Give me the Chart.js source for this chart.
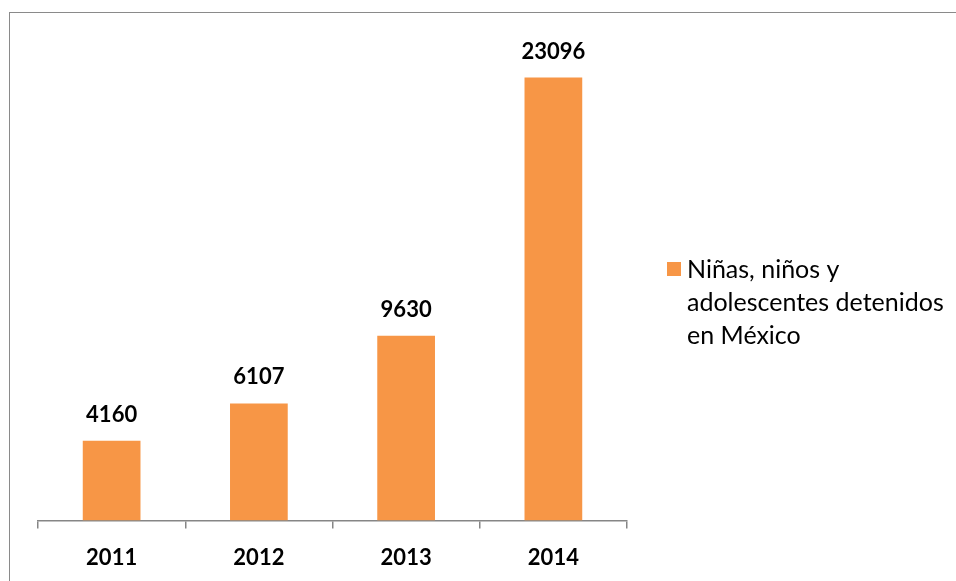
<!DOCTYPE html>
<html>
<head>
<meta charset="utf-8">
<script src="https://cdn.jsdelivr.net/npm/chart.js@4.4.0/dist/chart.umd.min.js"></script>
<style>
  html, body { margin: 0; padding: 0; background: #fff; overflow: hidden; }
  #wrap { position: relative; width: 956px; height: 581px; }
  #frame { position: absolute; left: 9px; top: 12px; width: 1000px; height: 700px; border: 1.5px solid #8a8a8a; box-sizing: border-box; }
  canvas { position: absolute; left: 0; top: 0; }
</style>
</head>
<body>
<div id="wrap">
  <div id="frame"></div>
  <canvas id="barChart" width="956" height="581"></canvas>
</div>
<script>
const years = ['2011', '2012', '2013', '2014'];
const detenidos = [4160, 6107, 9630, 23096];
const seriesName = ['Niñas, niños y', 'adolescentes detenidos', 'en México'];

const barColor = '#F79646';
const fontFamily = 'Lato, "Open Sans", sans-serif';

// value labels above each bar
const valueLabels = {
  id: 'valueLabels',
  afterDatasetsDraw(chart) {
    const ctx = chart.ctx;
    const meta = chart.getDatasetMeta(0);
    ctx.save();
    ctx.font = 'bold 22px ' + fontFamily;
    ctx.fillStyle = '#000';
    ctx.textAlign = 'center';
    ctx.textBaseline = 'alphabetic';
    meta.data.forEach((bar, i) => {
      ctx.fillText(String(chart.data.datasets[0].data[i]), bar.x, bar.y - 19);
    });
    ctx.restore();
  }
};

// legend on the right, wrapped on three lines
const sideLegend = {
  id: 'sideLegend',
  afterDraw(chart) {
    const ctx = chart.ctx;
    ctx.save();
    ctx.fillStyle = barColor;
    ctx.fillRect(667, 262, 14, 14);
    ctx.font = '25px ' + fontFamily;
    ctx.fillStyle = '#000';
    ctx.textAlign = 'left';
    ctx.textBaseline = 'middle';
    seriesName.forEach((line, i) => {
      ctx.fillText(line, 687, 270 + i * 33);
    });
    ctx.restore();
  }
};

new Chart(document.getElementById('barChart').getContext('2d'), {
  type: 'bar',
  data: {
    labels: years,
    datasets: [{
      label: seriesName.join(' '),
      data: detenidos,
      backgroundColor: barColor,
      barPercentage: 0.8,
      categoryPercentage: 0.49
    }]
  },
  options: {
    responsive: false,
    animation: false,
    layout: { padding: { left: 38, right: 329, top: 41, bottom: -6 } },
    plugins: {
      legend: { display: false },
      tooltip: { enabled: false }
    },
    scales: {
      y: { display: false, min: 0, max: 25000 },
      x: {
        border: { display: true, color: '#868686', width: 1.5 },
        grid: { display: true, drawOnChartArea: false, drawTicks: true, tickLength: 8, color: '#868686', lineWidth: 1.5, offset: true },
        ticks: { color: '#000', padding: 16, font: { family: fontFamily, size: 22, weight: 'bold' } }
      }
    }
  },
  plugins: [valueLabels, sideLegend]
});
</script>
</body>
</html>
